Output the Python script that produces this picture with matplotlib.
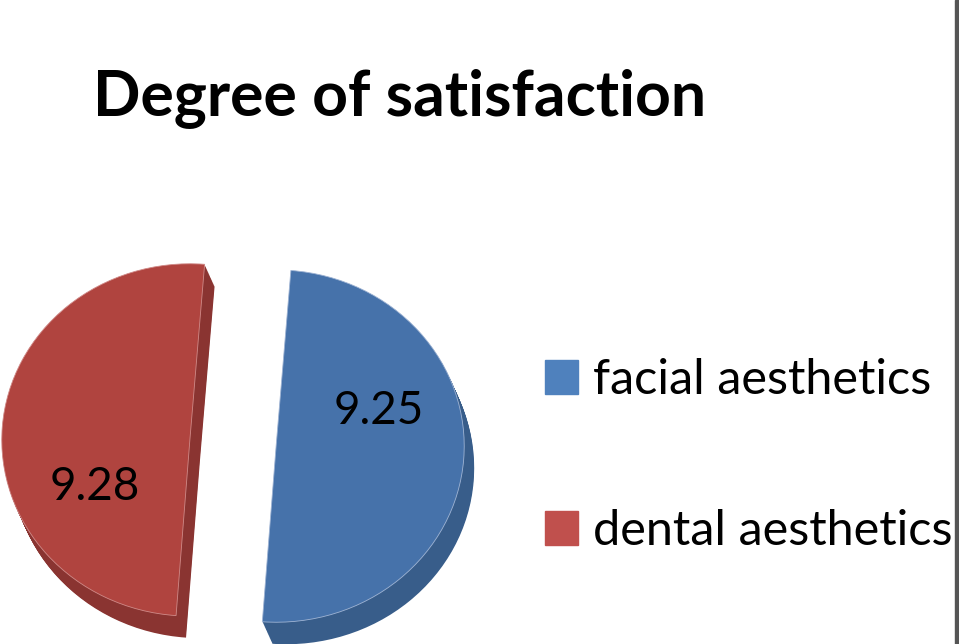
import matplotlib
matplotlib.use("Agg")
import matplotlib.pyplot as plt
import numpy as np

plt.rcParams['font.family'] = ['Lato', 'DejaVu Sans']

labels = ['facial aesthetics', 'dental aesthetics']
values = [9.25, 9.28]
top_colors = ['#4672AA', '#B0443F']
side_colors = ['#385D8A', '#8A3431']
legend_colors = ['#4F81BD', '#C0504D']
explode = [0.23, 0.23]

W, H = 959, 644
fig = plt.figure(figsize=(W / 100, H / 100), dpi=100)

# pie axes, wider than tall so the disc looks tilted
aw, ah = 489, 458
cx, cy = 233, 644 - 443
ax = fig.add_axes([(cx - aw / 2) / W, (cy - ah / 2) / H, aw / W, ah / H])

start = 85.5
# fake 3D: stack darker copies downwards for the side
depth_x, depth_y = 0.053, -0.125
n = 24
for k in range(n, 0, -1):
    ax.pie(values, colors=side_colors, explode=explode, startangle=start,
           counterclock=False, center=(depth_x * k / n, depth_y * k / n),
           wedgeprops=dict(linewidth=0))
wedges, _ = ax.pie(values, colors=top_colors, explode=explode, startangle=start,
                   counterclock=False, wedgeprops=dict(linewidth=0.6, edgecolor='#9fb4d4'))
wedges[1].set_edgecolor('#d08a88')

ax.set_aspect('auto')
ax.set_xlim(-1.3, 1.3)
ax.set_ylim(-1.3, 1.3)
ax.axis('off')

# value labels placed relative to each wedge's own centre
label_pos = [(20, 0.58), (208, 0.57)]
for w, v, (ang, r) in zip(wedges, values, label_pos):
    mid = np.deg2rad((w.theta1 + w.theta2) / 2)
    ox = explode[0] * np.cos(mid)
    oy = explode[0] * np.sin(mid)
    a = np.deg2rad(ang)
    ax.text(ox + r * np.cos(a), oy + r * np.sin(a), f'{v:.2f}', fontsize=33,
            ha='center', va='center', color='black')

fig.text(400 / W, 1 - 98 / H, 'Degree of satisfaction', fontsize=45,
         fontweight='bold', ha='center', va='center')

handles = [plt.Rectangle((0, 0), 1, 1, color=c) for c in legend_colors]
fig.legend(handles, labels, loc='upper left', bbox_to_anchor=(545 / W, 1 - 358 / H),
           frameon=False, fontsize=35, handlelength=0.68, handleheight=0.68,
           handletextpad=0.3, labelspacing=2.2, borderpad=0, borderaxespad=0)

fig.add_artist(plt.Rectangle((955 / W, 0), 4 / W, 1, transform=fig.transFigure,
                             color='#555555'))

fig.savefig('out.png', dpi=100)
